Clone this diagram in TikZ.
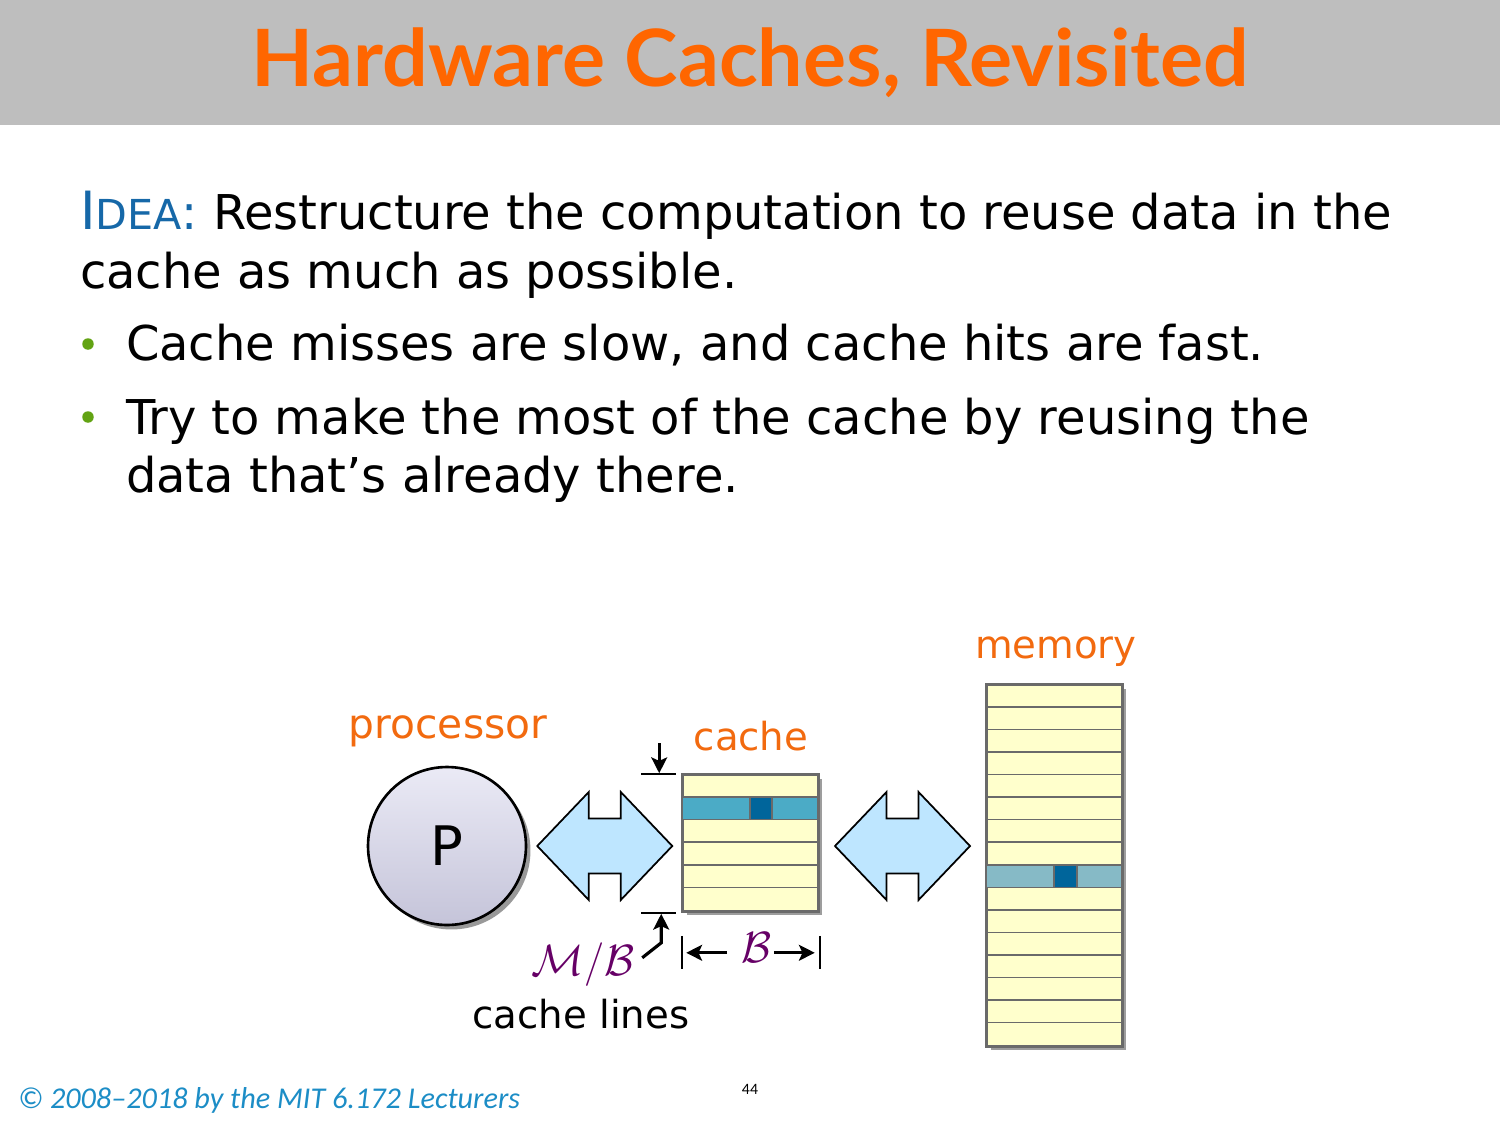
\documentclass[tikz,border=0pt]{standalone}
\usepackage{fontspec}
\setmainfont{DejaVu Sans}
\newfontfamily\footfont{Carlito}
\newfontfamily\headfont{Lato}
\usetikzlibrary{calc,shadows,arrows.meta}

\definecolor{bannergray}{HTML}{BEBEBE}
\definecolor{titleorange}{HTML}{FF6600}
\definecolor{labelorange}{HTML}{F26A0F}
\definecolor{ideablue}{HTML}{1668A8}
\definecolor{bulletgreen}{HTML}{62A313}
\definecolor{procfill}{HTML}{D6D5EC}
\definecolor{busblue}{HTML}{BEE6FF}
\definecolor{lineyellow}{HTML}{FFFFCC}
\definecolor{rowgray}{HTML}{6A6A6A}
\definecolor{cacheteal}{HTML}{4BABC6}
\definecolor{memteal}{HTML}{86BAC6}
\definecolor{worddark}{HTML}{00659B}
\definecolor{calpurple}{HTML}{660066}
\definecolor{footblue}{HTML}{1C8DC6}

\tikzset{
  txt/.style={inner sep=0pt, outer sep=0pt},
  body/.style={txt, anchor=base west, font=\fontsize{27.3}{33}\selectfont},
  partlabel/.style={txt, anchor=base, text=labelorange, font=\fontsize{22}{26}\selectfont},
  bulletdot/.style={circle, fill=bulletgreen, inner sep=0pt, minimum size=0.23cm},
  linebox/.style={rectangle, fill=lineyellow, draw=rowgray, line width=0.9pt,
    drop shadow={shadow xshift=0.08cm, shadow yshift=-0.08cm, opacity=0.55, fill=black!70}},
  rowline/.style={draw=rowgray, line width=0.9pt},
  dimline/.style={line width=1.4pt},
  dimarrow/.style={line width=1.8pt, -{Stealth[length=9pt, width=9pt, inset=2pt]}},
  pics/busarrow/.style={code={
    \draw[fill=busblue, line width=1pt, line join=miter]
      (-67.5,0) -- (-16,-54) -- (-16,-27.5) -- (16,-27.5) -- (16,-54) -- (67.5,0)
      -- (16,54) -- (16,27.5) -- (-16,27.5) -- (-16,54) -- cycle;
  }}
}

\begin{document}
\begin{tikzpicture}[x=0.02cm, y=-0.02cm]
\useasboundingbox (0,0) rectangle (1500,1125);

% title banner
\fill[bannergray] (0,0) rectangle (1500,125);
\node[txt, anchor=base, text=titleorange, font=\headfont\bfseries\fontsize{45}{54}\selectfont]
  (title) at (750,87) {\resizebox{19.96cm}{\height}{Hardware Caches, Revisited}};

% body text
\node[body] (idea) at (80,230)
  {\textcolor{ideablue}{{\fontsize{30}{33}\selectfont I}{\fontsize{23.5}{33}\selectfont DEA}:} Restructure the computation to reuse data in the};
\node[body] (idea2) at (80,288) {cache as much as possible.};
\node[bulletdot] (b1) at (88,344) {};
\node[body] (item1) at (126,360) {Cache misses are slow, and cache hits are fast.};
\node[bulletdot] (b2) at (88,417) {};
\node[body] (item2) at (126,434) {Try to make the most of the cache by reusing the};
\node[body] (item2b) at (126,492) {data that’s already there.};

% processor
\node[circle, minimum size=3.16cm, draw=black, line width=1.5pt,
      top color=procfill!50!white, bottom color=procfill!92!black,
      drop shadow={shadow xshift=0.09cm, shadow yshift=-0.09cm, opacity=0.5, fill=black!80},
      font=\fontsize{31}{31}\selectfont] (proc) at (447,846) {P};
\node[partlabel, font=\fontsize{23.2}{26}\selectfont] (proclbl) at (448,738) {processor};

% cache: 6 lines of B bytes
\node[linebox, minimum width=2.7cm, minimum height=2.72cm] (cache) at (750.5,843) {};
\begin{scope}[shift={(cache.north west)}]
  \fill[cacheteal] (0,22.67) rectangle (135,45.33);
  \draw[rowline, fill=worddark] (68,22.67) rectangle (90,45.33);
  \foreach \k in {1,...,5} \draw[rowline] (0,22.67*\k) -- (135,22.67*\k);
\end{scope}
\draw[rowline] (cache.north west) rectangle (cache.south east);
\node[partlabel] (cachelbl) at (751,750) {cache};

% memory: 16 lines
\node[linebox, minimum width=2.7cm, minimum height=7.22cm] (mem) at (1054.5,865.5) {};
\begin{scope}[shift={(mem.north west)}]
  \fill[memteal] (0,180.5) rectangle (135,203.06);
  \draw[rowline, fill=worddark] (68,180.5) rectangle (91,203.06);
  \foreach \k in {1,...,15} \draw[rowline] (0,22.5625*\k) -- (135,22.5625*\k);
\end{scope}
\draw[rowline] (mem.north west) rectangle (mem.south east);
\node[partlabel] (memlbl) at (1056,658) {memory};

% buses
\coordinate (bus1) at ($(proc.east)!0.5!(cache.west)$);
\coordinate (bus2) at ($(cache.east)!0.5!(mem.west)$);
\pic at (bus1 |- proc) {busarrow};
\pic at (bus2 |- proc) {busarrow};

% height of the cache: M/B lines
\coordinate (topL) at ($(cache.north west)+(-41,0)$);
\coordinate (topR) at ($(cache.north west)+(-6,0)$);
\coordinate (topA) at ($(cache.north west)+(-23,-31)$);
\coordinate (topB) at ($(cache.north west)+(-23,-1)$);
\draw[dimline] (topL) -- (topR);
\draw[dimarrow] (topA) -- (topB);
\coordinate (botL) at ($(cache.south west)+(-41,1)$);
\coordinate (botR) at ($(cache.south west)+(-6,1)$);
\coordinate (botA) at ($(cache.south west)+(-21,31)$);
\coordinate (botB) at ($(cache.south west)+(-21,2)$);
\coordinate (botC) at ($(cache.south west)+(-40,46)$);
\draw[dimline] (botL) -- (botR);
\draw[dimarrow, line join=miter] (botC) -- (botA) -- (botB);
\node[txt, anchor=base, text=calpurple, font=\fontsize{26}{26}\selectfont]
  (mb) at (583,975) {$\mathcal{M}/\mathcal{B}$};
\node[txt, anchor=base, font=\fontsize{22}{26}\selectfont] (lines) at (581,1028) {cache lines};

% width of a line: B bytes
\coordinate (wl1) at ($(cache.south west)+(0,24)$);
\coordinate (wl2) at ($(cache.south west)+(0,57)$);
\coordinate (wr1) at ($(cache.south east)+(1,24)$);
\coordinate (wr2) at ($(cache.south east)+(1,57)$);
\draw[dimline] (wl1) -- (wl2);
\draw[dimline] (wr1) -- (wr2);
\node[txt, text=calpurple, font=\fontsize{27}{27}\selectfont] (bw) at (757,948) {$\mathcal{B}$};
\coordinate (wla) at ($(cache.south west)+(45,41)$);
\coordinate (wlb) at ($(cache.south west)+(4,41)$);
\coordinate (wra) at ($(cache.south east)+(-45,41)$);
\coordinate (wrb) at ($(cache.south east)+(-4,41)$);
\draw[dimarrow] (wla) -- (wlb);
\draw[dimarrow] (wra) -- (wrb);

% footer
\node[txt, anchor=base west, text=footblue, font=\footfont\itshape\fontsize{17.2}{19}\selectfont]
  (copy) at (18,1108) {© 2008–2018 by the MIT 6.172 Lecturers};
\node[txt, anchor=base, font=\footfont\fontsize{9}{10}\selectfont] (page) at (750,1094) {44};
\end{tikzpicture}
\end{document}
